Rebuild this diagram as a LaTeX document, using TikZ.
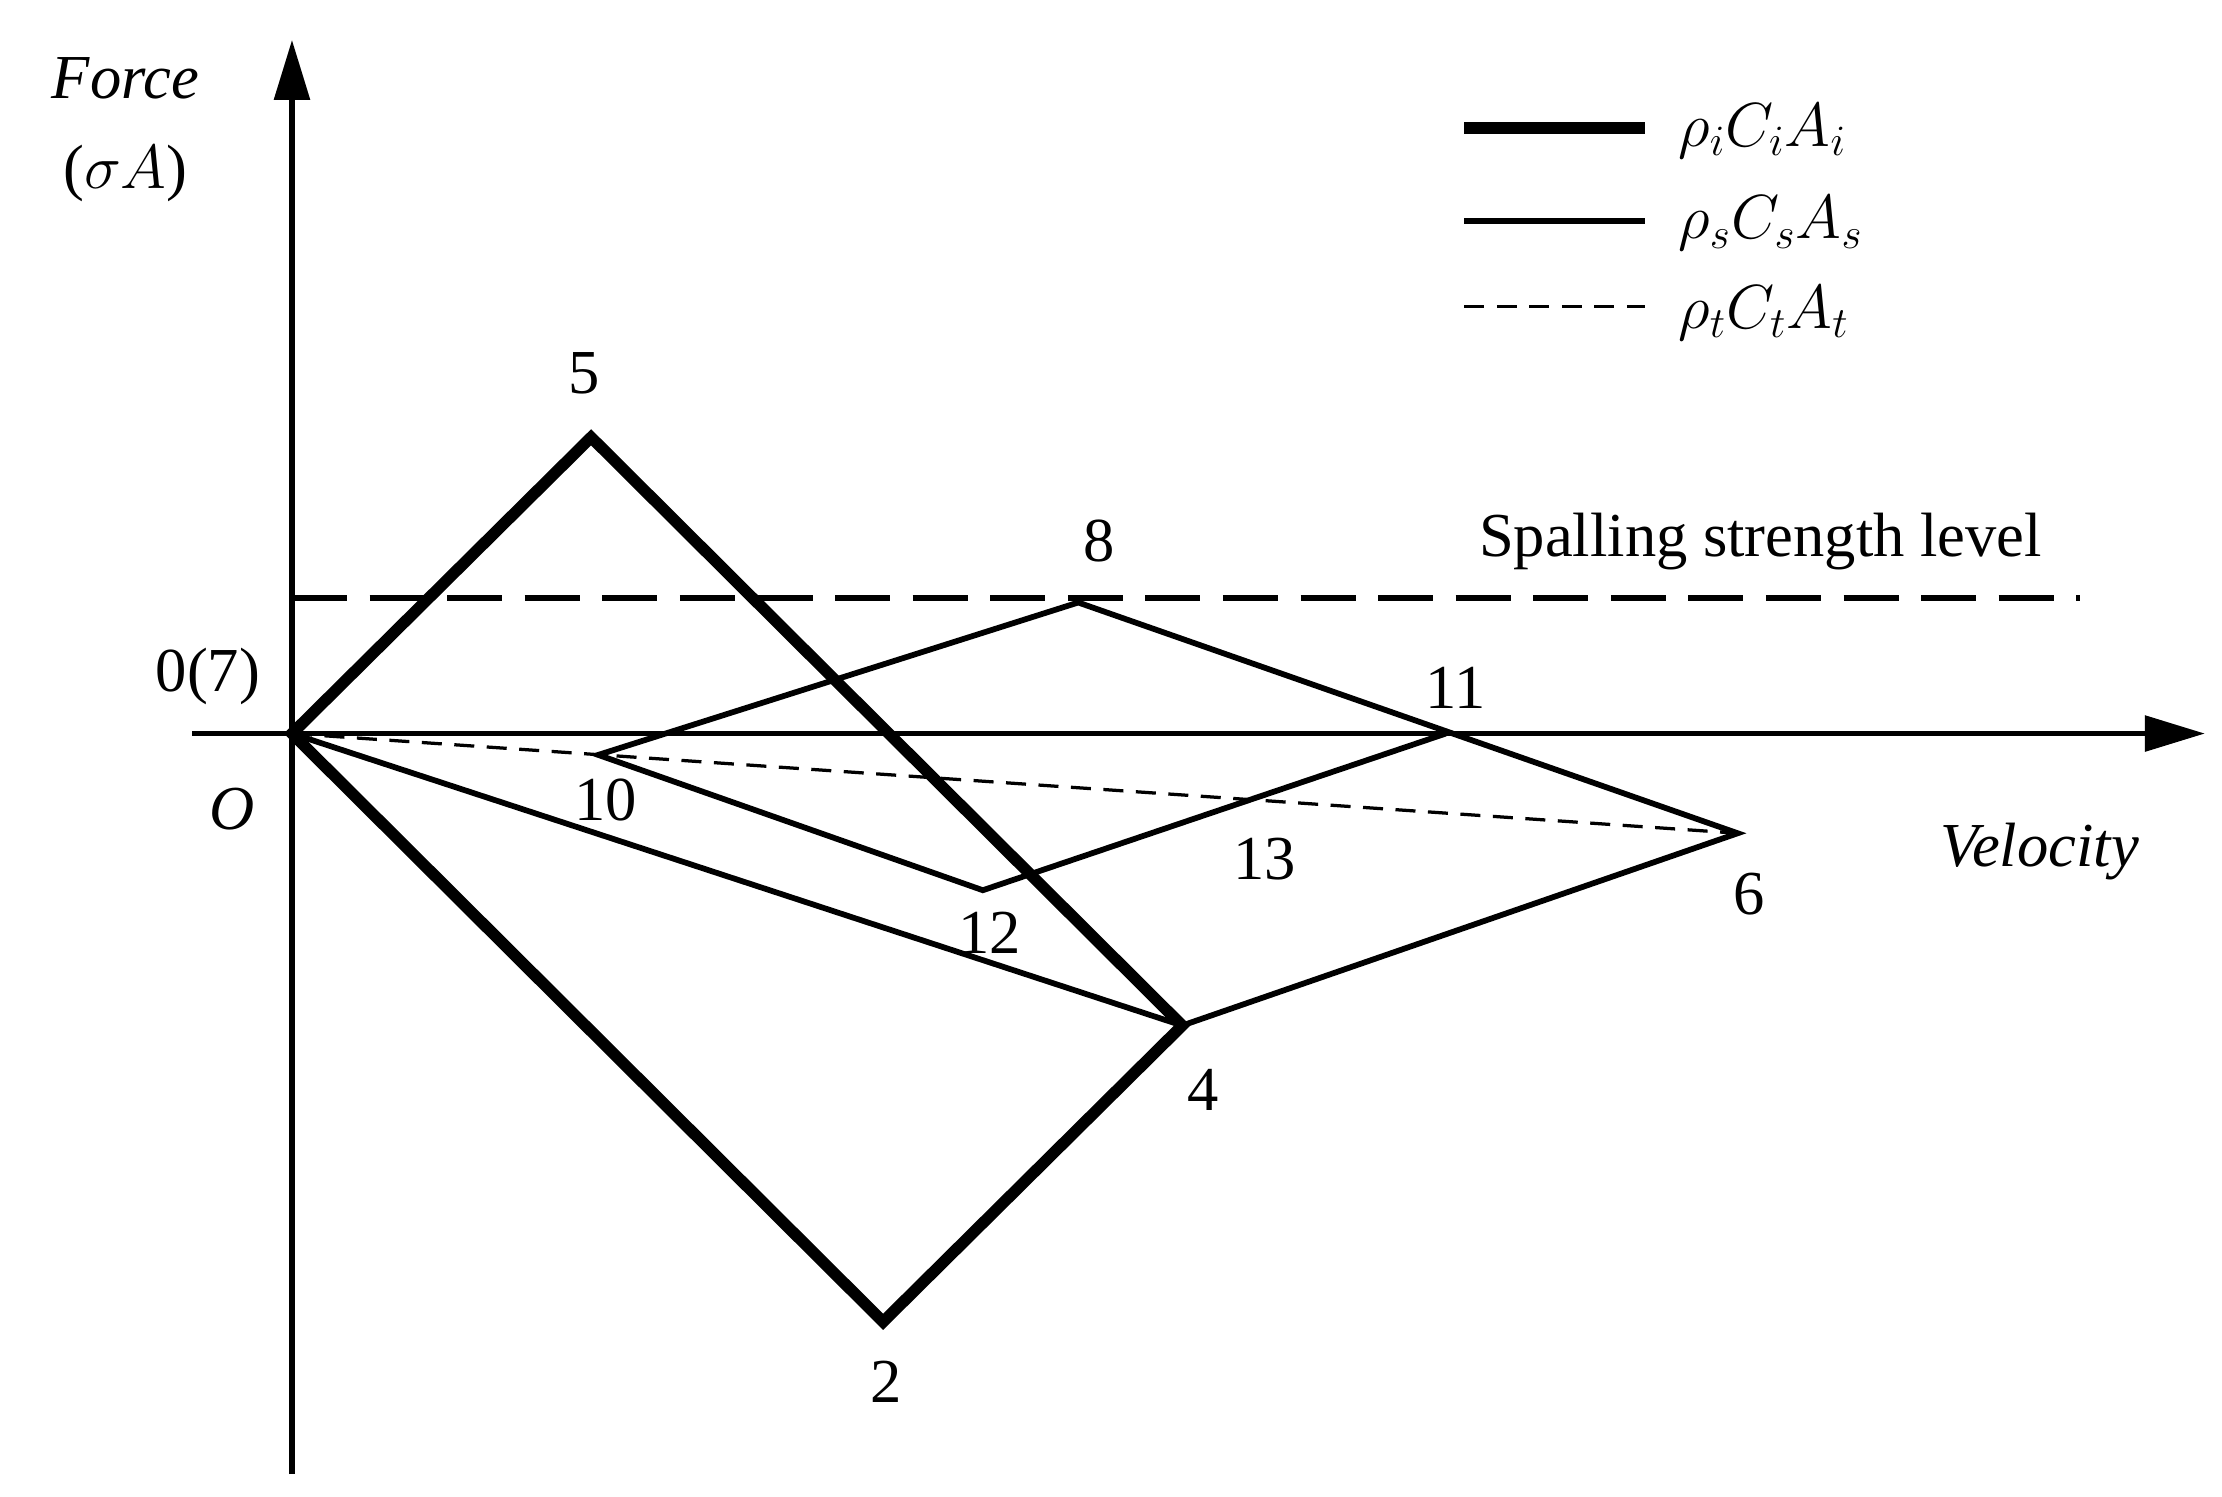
\documentclass[tikz,border=0pt]{standalone}
\usepackage{fontspec}
\setmainfont{Liberation Serif}
\usetikzlibrary{arrows.meta}
\begin{document}
\begin{tikzpicture}[x=0.02cm,y=-0.02cm,
  thk/.style={line width=4.6pt,line join=miter},
  thn/.style={line width=2.3pt},
  dsh/.style={line width=1.3pt,dash pattern=on 8pt off 5pt},
  lbl/.style={font=\fontsize{25}{28}\selectfont,inner sep=0pt},
  every node/.style={inner sep=0pt}]
\useasboundingbox (0,0) rectangle (1560,1051);
\coordinate (O) at (205,515);
\coordinate (p5) at (415,307);
\coordinate (p2) at (620,928);
\coordinate (p4) at (830,720);
\coordinate (p8) at (757,423);
\coordinate (p10) at (420,530);
\coordinate (p12) at (690,625);
\coordinate (p11) at (1015,515);
\coordinate (p6) at (1220,585);
\coordinate (ya) at (205,1035); \coordinate (yb) at (205,28);
\coordinate (xa) at (135,515); \coordinate (xb) at (1548,515);
\draw[line width=2.3pt,-{Triangle[length=24pt,width=14pt]}] (ya) -- (yb);
\draw[line width=2.3pt,-{Triangle[length=24pt,width=14pt]}] (xa) -- (xb);
\coordinate (s1) at (205,420); \coordinate (s2) at (1460,420);
\draw[line width=2.3pt,dash pattern=on 22pt off 9pt] (s1) -- (s2);
\draw[thk] (O) -- (p5) -- (p4) -- (p2) -- cycle;
\draw[thn] (O) -- (p4) -- (p6) -- (p8) -- (p10) -- (p12) -- (p11);
\draw[dsh] (O) -- (p6);
\node[lbl] at (410,262) {5};
\node[lbl] at (772,380) {8};
\node[lbl] at (146,475) {0(7)};
\node[lbl,font=\fontsize{25}{28}\selectfont\itshape] at (163,568) {O};
\node[lbl] at (425,562) {10};
\node[lbl] at (695,655) {12};
\node[lbl] at (888,603) {13};
\node[lbl] at (1022,483) {11};
\node[lbl] at (1228,628) {6};
\node[lbl] at (845,765) {4};
\node[lbl] at (622,970) {2};
\node[lbl,font=\fontsize{25}{28}\selectfont\itshape] at (1432,598) {Velocity};
\node[lbl,font=\fontsize{25}{28}\selectfont\itshape] at (88,55) {Force};
\node[lbl] at (88,122) {($\sigma A$)};
\node[lbl] at (1236,380) {Spalling strength level};
\coordinate (l1a) at (1028,90); \coordinate (l1b) at (1155,90);
\coordinate (l2a) at (1028,155); \coordinate (l2b) at (1155,155);
\coordinate (l3a) at (1028,215); \coordinate (l3b) at (1155,215);
\draw[thk] (l1a) -- (l1b);
\draw[thn] (l2a) -- (l2b);
\draw[dsh] (l3a) -- (l3b);
\node[lbl,anchor=west] at (1178,92) {$\rho_i C_i A_i$};
\node[lbl,anchor=west] at (1178,157) {$\rho_s C_s A_s$};
\node[lbl,anchor=west] at (1178,220) {$\rho_t C_t A_t$};
\end{tikzpicture}
\end{document}
